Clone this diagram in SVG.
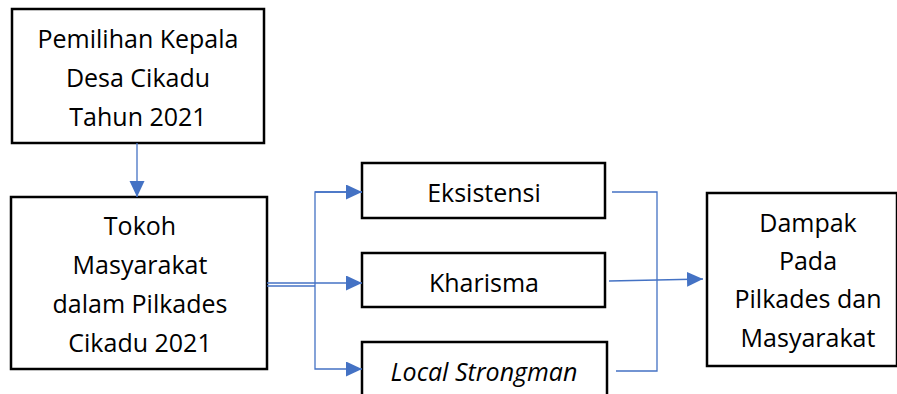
<svg xmlns="http://www.w3.org/2000/svg" width="897" height="394" viewBox="0 0 897 394">
<style>
.box{fill:#fff;stroke:#000;stroke-width:2.5}
.t{font-family:"Open Sans","Liberation Sans",sans-serif;font-size:25px;fill:#000;text-anchor:middle}
.c{fill:none;stroke:#4472C4;stroke-width:1.3}
</style>
<defs>
<marker id="ah" markerUnits="userSpaceOnUse" markerWidth="18" markerHeight="16" refX="16" refY="7.5" orient="auto">
<path d="M0,0 L16,7.5 L0,15 Z" fill="#4472C4"/>
</marker>
</defs>
<rect width="897" height="394" fill="#fff"/>
<g id="n1">
<rect class="box" x="12" y="9" width="252" height="134"/>
<text class="t" x="138" y="48">Pemilihan Kepala</text>
<text class="t" x="138" y="87">Desa Cikadu</text>
<text class="t" x="138" y="126">Tahun 2021</text>
</g>
<g id="n2">
<rect class="box" x="11" y="197" width="256" height="172"/>
<text class="t" x="140" y="235">Tokoh</text>
<text class="t" x="140" y="274">Masyarakat</text>
<text class="t" x="140" y="313">dalam Pilkades</text>
<text class="t" x="140" y="352">Cikadu 2021</text>
</g>
<g id="n3">
<rect class="box" x="362" y="163" width="243" height="55"/>
<text class="t" x="484" y="202">Eksistensi</text>
</g>
<g id="n4">
<rect class="box" x="362" y="253" width="243" height="54"/>
<text class="t" x="484" y="292">Kharisma</text>
</g>
<g id="n5">
<rect class="box" x="362" y="342" width="245" height="60"/>
<text class="t" x="484" y="381" font-style="italic">Local Strongman</text>
</g>
<g id="n6">
<rect class="box" x="707" y="193" width="190" height="173"/>
<text class="t" x="808" y="232">Dampak</text>
<text class="t" x="808" y="270">Pada</text>
<text class="t" x="808" y="308">Pilkades dan</text>
<text class="t" x="808" y="347">Masyarakat</text>
</g>
<g id="connectors">
<line class="c" x1="137" y1="143" x2="137" y2="197" marker-end="url(#ah)"/>
<line class="c" x1="267" y1="283" x2="315" y2="283"/>
<line class="c" x1="267" y1="286" x2="315" y2="286"/>
<polyline class="c" points="362,192 315,192 315,369 362,369" marker-end="url(#ah)"/>
<line class="c" x1="315" y1="192" x2="362" y2="192" marker-end="url(#ah)"/>
<line class="c" x1="315" y1="283" x2="362" y2="283" marker-end="url(#ah)"/>
<polyline class="c" points="612,192 657,192 657,371 616,371"/>
<line class="c" x1="609" y1="281" x2="657" y2="280"/>
<line class="c" x1="657" y1="280" x2="703" y2="279" stroke-width="2" marker-end="url(#ah)"/>
</g>
</svg>
